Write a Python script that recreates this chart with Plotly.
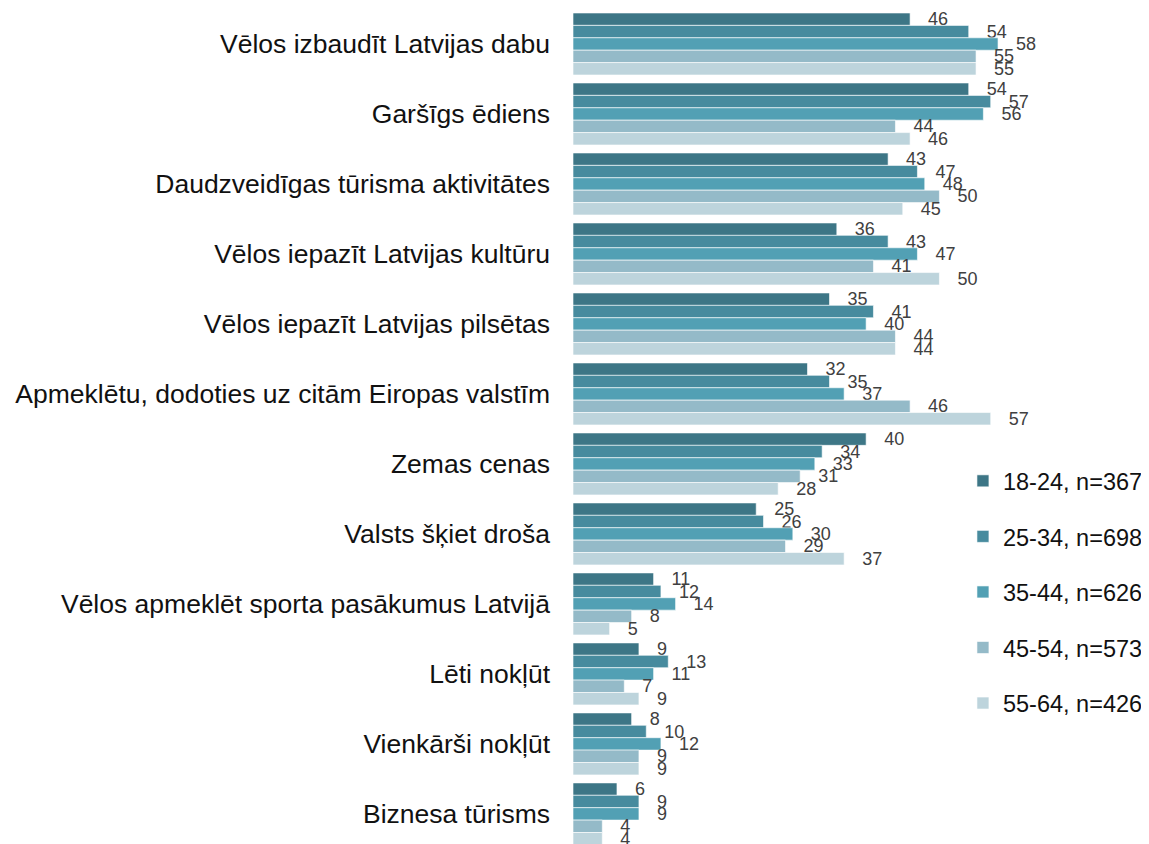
import plotly.graph_objects as go

# survey reasons (top to bottom)
categories = [
    "Vēlos izbaudīt Latvijas dabu",
    "Garšīgs ēdiens",
    "Daudzveidīgas tūrisma aktivitātes",
    "Vēlos iepazīt Latvijas kultūru",
    "Vēlos iepazīt Latvijas pilsētas",
    "Apmeklētu, dodoties uz citām Eiropas valstīm",
    "Zemas cenas",
    "Valsts šķiet droša",
    "Vēlos apmeklēt sporta pasākumus Latvijā",
    "Lēti nokļūt",
    "Vienkārši nokļūt",
    "Biznesa tūrisms",
]

age_18_24 = [46, 54, 43, 36, 35, 32, 40, 25, 11, 9, 8, 6]
age_25_34 = [54, 57, 47, 43, 41, 35, 34, 26, 12, 13, 10, 9]
age_35_44 = [58, 56, 48, 47, 40, 37, 33, 30, 14, 11, 12, 9]
age_45_54 = [55, 44, 50, 41, 44, 46, 31, 29, 8, 7, 9, 4]
age_55_64 = [55, 46, 45, 50, 44, 57, 28, 37, 5, 9, 9, 4]

series_names = ["18-24, n=367", "25-34, n=698", "35-44, n=626",
                "45-54, n=573", "55-64, n=426"]
series_values = [age_18_24, age_25_34, age_35_44, age_45_54, age_55_64]
colors = ["#3d7686", "#478b9e", "#52a0b4", "#94bac8", "#bdd4dc"]

fig = go.Figure()
for name, vals, col in zip(series_names, series_values, colors):
    fig.add_trace(go.Bar(
        y=categories, x=vals, name=name, orientation="h",
        marker=dict(color=col, line=dict(color="rgba(255,255,255,0.6)", width=1)),
        text=vals, texttemplate="   %{x}", textposition="outside",
        constraintext="none", cliponaxis=False,
        textfont=dict(size=18, color="#404040"),
        legendgroup=name,
    ))

# the page body adds an 8px offset, so the figure is 8px smaller
fig.update_layout(
    width=1141, height=836,
    barmode="group", bargap=0.114, bargroupgap=0,
    plot_bgcolor="white", paper_bgcolor="white",
    font=dict(family="Liberation Sans, Arial, sans-serif", color="#1a1a1a"),
    margin=dict(l=565, r=0, t=1, b=0, autoexpand=False),
    legend=dict(x=0.677, y=0.461, xanchor="left", yanchor="top",
                font=dict(size=23.5, color="#111111"),
                tracegroupgap=22, traceorder="grouped",
                bgcolor="rgba(0,0,0,0)"),
    showlegend=True,
)
fig.update_xaxes(range=[0, 78.6], showticklabels=False, showgrid=False,
                 zeroline=False, showline=False)
fig.update_yaxes(range=[11.43, -0.5], showgrid=False, showline=False,
                 zeroline=False, ticks="", ticklabelstandoff=22,
                 tickfont=dict(size=26.5, color="#111111"), automargin=False)

fig.write_html("out.html")
